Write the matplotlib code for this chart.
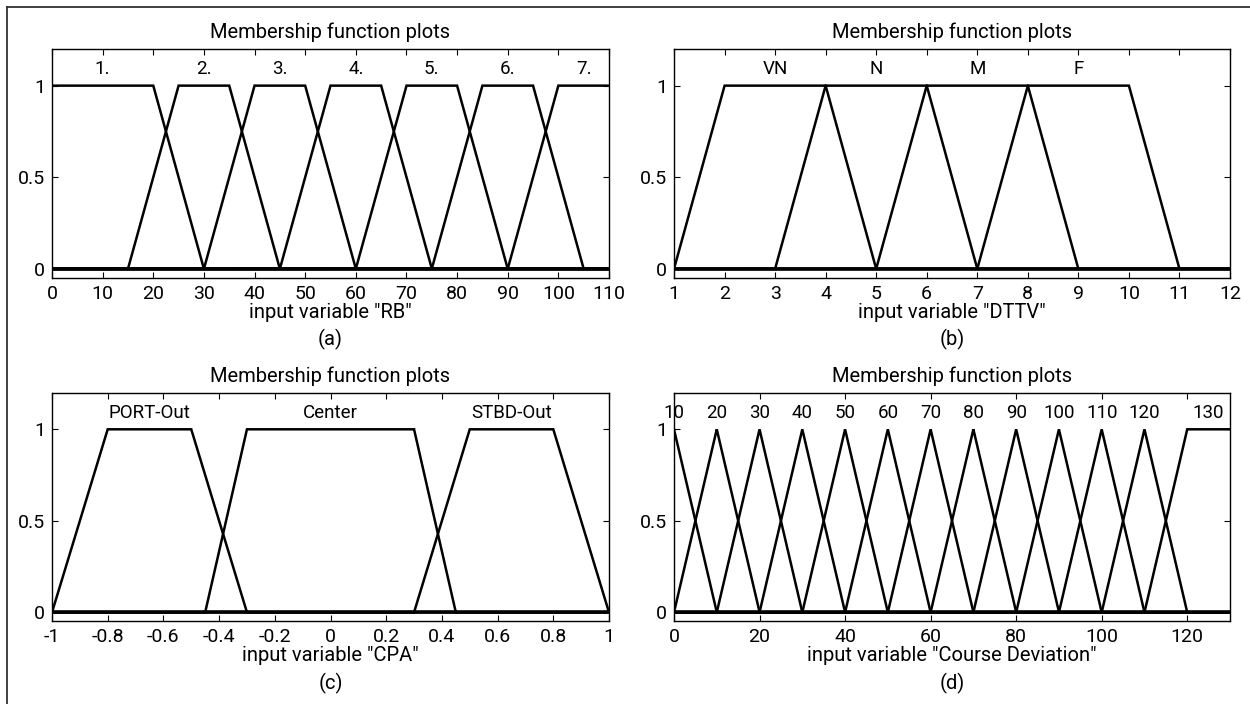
import numpy as np
import matplotlib
matplotlib.use("Agg")
import matplotlib.pyplot as plt
from matplotlib.lines import Line2D

plt.rcParams['font.family'] = ['Roboto', 'DejaVu Sans']

# ---------------- data ----------------
# (a) RB : trapezoid params [a, b, c, d]
rb_names = ["1.", "2.", "3.", "4.", "5.", "6.", "7."]
rb_params = [[-10, 0, 20, 30], [15, 25, 35, 45], [30, 40, 50, 60], [45, 55, 65, 75],
             [60, 70, 80, 90], [75, 85, 95, 105], [90, 100, 110, 120]]
rb_label_x = [10, 30, 45, 60, 75, 90, 105]
rb_range = [0, 110]
rb_ticks = [0, 10, 20, 30, 40, 50, 60, 70, 80, 90, 100, 110]

# (b) DTTV
dttv_names = ["VN", "N", "M", "F"]
dttv_params = [[1, 2, 4, 5], [3, 4, 6, 7], [5, 6, 8, 9], [7, 8, 10, 11]]
dttv_label_x = [3, 5, 7, 9]
dttv_range = [1, 12]
dttv_ticks = [1, 2, 3, 4, 5, 6, 7, 8, 9, 10, 11, 12]

# (c) CPA
cpa_names = ["PORT-Out", "Center", "STBD-Out"]
cpa_params = [[-1, -0.8, -0.5, -0.3], [-0.45, -0.3, 0.3, 0.45], [0.3, 0.5, 0.8, 1.0]]
cpa_label_x = [-0.65, 0.0, 0.65]
cpa_range = [-1, 1]
cpa_ticks = [-1, -0.8, -0.6, -0.4, -0.2, 0, 0.2, 0.4, 0.6, 0.8, 1]
cpa_ticklabels = ["-1", "-0.8", "-0.6", "-0.4", "-0.2", "0", "0.2", "0.4", "0.6", "0.8", "1"]

# (d) Course Deviation
cd_names = ["10", "20", "30", "40", "50", "60", "70", "80", "90", "100", "110", "120", "130"]
cd_params = [[-10, 0, 0, 10], [0, 10, 10, 20], [10, 20, 20, 30], [20, 30, 30, 40],
             [30, 40, 40, 50], [40, 50, 50, 60], [50, 60, 60, 70], [60, 70, 70, 80],
             [70, 80, 80, 90], [80, 90, 90, 100], [90, 100, 100, 110], [100, 110, 110, 120],
             [110, 120, 130, 140]]
cd_label_x = [0, 10, 20, 30, 40, 50, 60, 70, 80, 90, 100, 110, 125]
cd_range = [0, 130]
cd_ticks = [0, 20, 40, 60, 80, 100, 120]

y_ticks = [0, 0.5, 1]
y_ticklabels = ["0", "0.5", "1"]


def trapmf(x, p):
    a, b, c, d = p
    y = np.ones_like(x)
    if b > a:
        y = np.where(x < b, (x - a) / (b - a), y)
    else:
        y = np.where(x < a, 0.0, y)
    if d > c:
        y = np.where(x > c, (d - x) / (d - c), y)
    else:
        y = np.where(x > d, 0.0, y)
    return np.clip(y, 0, 1)


fig = plt.figure(figsize=(12.5, 7.04), dpi=100)

panels = [
    ([0.0416, 0.6051, 0.4456, 0.3253], rb_names, rb_params, rb_label_x, rb_range, rb_ticks, None, 'input variable "RB"', "(a)"),
    ([0.5392, 0.6051, 0.4448, 0.3253], dttv_names, dttv_params, dttv_label_x, dttv_range, dttv_ticks, None, 'input variable "DTTV"', "(b)"),
    ([0.0416, 0.1172, 0.4456, 0.3250], cpa_names, cpa_params, cpa_label_x, cpa_range, cpa_ticks, cpa_ticklabels, 'input variable "CPA"', "(c)"),
    ([0.5392, 0.1172, 0.4448, 0.3250], cd_names, cd_params, cd_label_x, cd_range, cd_ticks, None, 'input variable "Course Deviation"', "(d)"),
]

for rect, names_, params, lx, rng, ticks, ticklabels, xlabel, tag in panels:
    ax = fig.add_axes(rect)
    xs = np.unique(np.concatenate([np.linspace(rng[0], rng[1], 2001),
                                   np.array(params, dtype=float).ravel()]))
    xs = xs[(xs >= rng[0]) & (xs <= rng[1])]
    for p in params:
        ax.plot(xs, trapmf(xs, p), color='black', lw=1.8, solid_joinstyle='miter')
    ax.axhline(0, color='black', lw=2.6)
    for name, x in zip(names_, lx):
        ax.text(x, 1.04, name, ha='center', va='bottom', fontsize=13.5)
    ax.set_xlim(rng)
    ax.set_ylim(-0.05, 1.2)
    ax.set_xticks(ticks)
    if ticklabels is not None:
        ax.set_xticklabels(ticklabels)
    else:
        ax.set_xticklabels([str(t) for t in ticks])
    ax.set_yticks(y_ticks)
    ax.set_yticklabels(y_ticklabels)
    ax.tick_params(direction='in', top=True, right=True, length=4, width=0.8,
                   labelsize=14, pad=5)
    for s in ax.spines.values():
        s.set_linewidth(1.0)
    ax.set_title("Membership function plots", fontsize=14.5, pad=8)
    ax.set_xlabel(xlabel, fontsize=14.5, labelpad=0)
    ax.text(0.5, -0.27, tag, transform=ax.transAxes, ha='center', va='center', fontsize=14.5)

# outer frame lines (top and left)
fig.add_artist(Line2D([7 / 1250, 1.0], [1 - 7 / 704, 1 - 7 / 704], transform=fig.transFigure,
                      color='#333333', lw=1.3))
fig.add_artist(Line2D([7 / 1250, 7 / 1250], [0.0, 1 - 7 / 704], transform=fig.transFigure,
                      color='#333333', lw=1.3))

fig.savefig("out.png", dpi=100)
